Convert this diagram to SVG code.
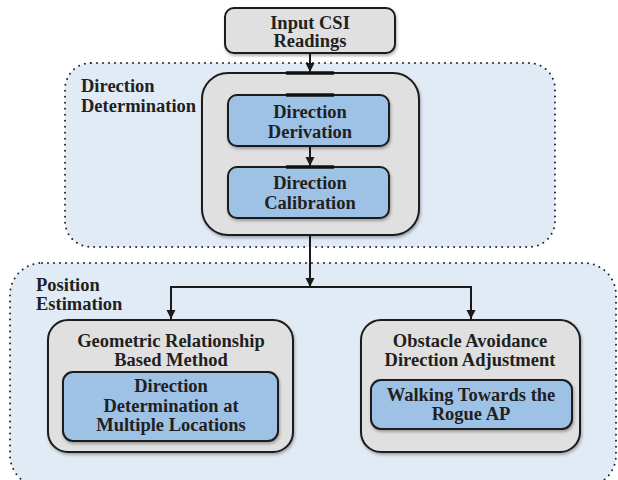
<svg xmlns="http://www.w3.org/2000/svg" width="618" height="480" viewBox="0 0 618 480">
<defs>
<style>
.cont{fill:#e1ebf6;stroke:#222;stroke-width:2;stroke-dasharray:0 6;stroke-linecap:round}
.gray{fill:#e0e0e1;stroke:#1a1a1a;stroke-width:2}
.blue{fill:#9dc2e6;stroke:#1a1a1a;stroke-width:2}
.t{font-weight:bold;font-size:18.5px;fill:#231f20;text-anchor:middle}
.tl{text-anchor:start}
.ln{fill:none;stroke:#1a1a1a;stroke-width:2}
.bar{stroke:#111;stroke-width:3.5}
</style>
<marker id="ah" viewBox="0 0 10 10" refX="10" refY="5" markerWidth="9.5" markerHeight="10" orient="auto" markerUnits="userSpaceOnUse">
<path d="M0,0L10,5L0,10z" fill="#1a1a1a"/>
</marker>
<filter id="sh" x="-10%" y="-10%" width="120%" height="130%">
<feDropShadow dx="1" dy="2" stdDeviation="1.5" flood-color="#000" flood-opacity="0.3"/>
</filter>
</defs>
<g font-family="Liberation Serif, Times New Roman, serif">
<g id="direction-determination">
<rect class="cont" x="65" y="63" width="490" height="184" rx="26"/>
<text class="t tl" x="81" y="92">Direction</text>
<text class="t tl" x="81" y="112">Determination</text>
</g>
<g id="position-estimation">
<rect class="cont" x="10" y="263" width="606" height="224" rx="32"/>
<text class="t tl" x="36" y="291">Position</text>
<text class="t tl" x="36" y="310">Estimation</text>
</g>
<g id="input-csi">
<rect class="gray" filter="url(#sh)" x="225" y="8" width="170" height="45" rx="9"/>
<text class="t" x="310" y="28.5">Input CSI</text>
<text class="t" x="310" y="47">Readings</text>
</g>
<g id="direction-group">
<rect class="gray" filter="url(#sh)" x="202" y="73" width="217" height="162" rx="26"/>
</g>
<g id="direction-derivation">
<rect class="blue" filter="url(#sh)" x="228" y="95" width="161" height="51" rx="9"/>
<text class="t" x="310" y="118">Direction</text>
<text class="t" x="310" y="138">Derivation</text>
</g>
<g id="direction-calibration">
<rect class="blue" filter="url(#sh)" x="228" y="167" width="161" height="51" rx="9"/>
<text class="t" x="310" y="189">Direction</text>
<text class="t" x="310" y="209">Calibration</text>
</g>
<g id="geometric-method">
<rect class="gray" filter="url(#sh)" x="48" y="320" width="245" height="132" rx="20"/>
<text class="t" x="171" y="347">Geometric Relationship</text>
<text class="t" x="171" y="366">Based Method</text>
</g>
<g id="multi-locations">
<rect class="blue" filter="url(#sh)" x="63" y="372" width="215" height="69" rx="10"/>
<text class="t" x="171" y="392">Direction</text>
<text class="t" x="171" y="412">Determination at</text>
<text class="t" x="171" y="431">Multiple Locations</text>
</g>
<g id="obstacle-avoidance">
<rect class="gray" filter="url(#sh)" x="361" y="320" width="219" height="132" rx="20"/>
<text class="t" x="470" y="347">Obstacle Avoidance</text>
<text class="t" x="470" y="366">Direction Adjustment</text>
</g>
<g id="walking-towards">
<rect class="blue" filter="url(#sh)" x="371" y="380" width="201" height="49" rx="10"/>
<text class="t" x="471" y="401">Walking Towards the</text>
<text class="t" x="471" y="420">Rogue AP</text>
</g>
</g>
<g id="connectors">
<line class="bar" x1="286" y1="73" x2="334" y2="73"/>
<line class="bar" x1="286" y1="95" x2="334" y2="95"/>
<line class="bar" x1="286" y1="167" x2="334" y2="167"/>
<line class="ln" x1="310" y1="53" x2="310" y2="72" marker-end="url(#ah)"/>
<line class="ln" x1="310" y1="146" x2="310" y2="166" marker-end="url(#ah)"/>
<line class="ln" x1="310" y1="235" x2="310" y2="287" marker-end="url(#ah)"/>
<polyline class="ln" points="310,287 171,287 171,319" marker-end="url(#ah)"/>
<polyline class="ln" points="310,287 471,287 471,319" marker-end="url(#ah)"/>
</g>
</svg>
